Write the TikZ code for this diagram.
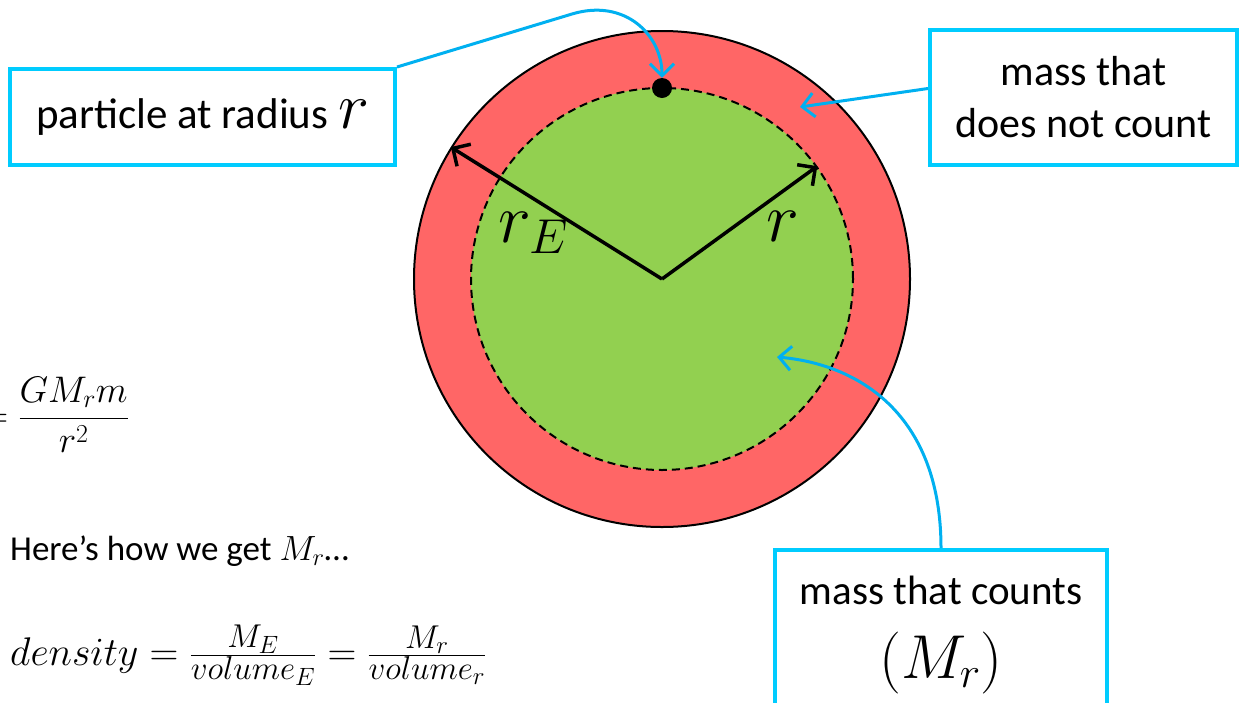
\RequirePackage{fix-cm}
\documentclass[tikz,border=0pt]{standalone}
\usepackage{amsmath}
\usepackage{fontspec}
\setmainfont{Carlito}
\usepackage{tikz}
\usetikzlibrary{arrows.meta, positioning}
\DeclareMathSizes{40}{40}{33}{25}
\definecolor{ring_red}{HTML}{FF6666}
\definecolor{core_green}{HTML}{92D050}
\definecolor{box_cyan}{HTML}{00CCFF}
\definecolor{arrow_cyan}{HTML}{00B0F0}
\tikzset{
  outer_ball/.style={circle, draw=black, line width=2pt, fill=ring_red, minimum size=496pt, inner sep=0pt},
  inner_ball/.style={circle, draw=black, dashed, line width=2pt, dash pattern=on 8pt off 5pt, fill=core_green, minimum size=382pt, inner sep=0pt},
  particle_dot/.style={circle, fill=black, minimum size=20pt, inner sep=0pt},
  radius_arrow/.style={-{Straight Barb[length=13pt, width=26pt, line width=3.5pt]}, line width=3.5pt, black},
  callout_box/.style={rectangle, draw=box_cyan, line width=4pt, fill=white, align=center, font=\fontsize{42}{52}\selectfont},
  callout_arrow/.style={-{Straight Barb[length=12pt, width=24pt, line width=3pt]}, line width=3pt, draw=arrow_cyan},
  radius_label/.style={font=\fontsize{70}{70}\selectfont, inner sep=0pt}
}

\begin{document}
\begin{tikzpicture}[x=1pt, y=-1pt]

  \useasboundingbox (0,0) rectangle (1245,702);

  % The ball and the core
  \node[outer_ball] (outer) at (662,279) {};
  \node[inner_ball] (inner) at (662,279) {};
  \coordinate (centre) at (662,279);
  \node[particle_dot] (particle) at (662,88) {};

  % Radii
  \draw[radius_arrow] (centre) -- (outer.148);
  \draw[radius_arrow] (centre) -- (inner.36);
  \node[radius_label] (re_label) at (533,233) {$r_E$};
  \node[radius_label] (r_label) at (783,226) {$r$};

  % Callout boxes
  \node[callout_box, minimum width=385pt, minimum height=96pt, font=\fontsize{43}{52}\selectfont] (pbox) at (202.5,117)
    {particle at radius {\fontsize{66}{66}\selectfont$r$}};
  \node[callout_box, minimum width=307pt, minimum height=135pt] (nbox) at (1083.5,97.5)
    {mass that\\does not count};
  \node[callout_box, anchor=north, minimum width=332pt, minimum height=170pt, font=\fontsize{41}{52}\selectfont] (cbox) at (941,548)
    {mass that counts\\[22pt]{\fontsize{62}{62}\selectfont$(M_r)$}};

  % Callout arrows
  \coordinate (bend) at (572,14);
  \coordinate (ring_tip) at (800,107);
  \coordinate (core_tip) at (777,357);
  \draw[callout_arrow] (pbox.north east) -- (bend) .. controls (625,-2) and (662,35) .. (particle.north);
  \draw[callout_arrow] ([yshift=9pt]nbox.west) -- (ring_tip);
  \draw[callout_arrow] (cbox.north) .. controls (941,420) and (865,365) .. (core_tip);

  % Equations on the left
  \node[anchor=east, font=\fontsize{37}{40}\selectfont, inner sep=0pt] (force) at (129,415)
    {$=\dfrac{GM_rm}{r^2}$};
  \node[anchor=base west, font=\fontsize{35}{40}\selectfont, inner sep=0pt] (howto) at (10,560)
    {Here’s how we get $M_r$…};
  \node[anchor=base west, font=\fontsize{40}{44}\selectfont, inner sep=0pt] (density) at (10,665)
    {$density=\frac{M_E}{volume_E}=\frac{M_r}{volume_r}$};

\end{tikzpicture}
\end{document}
